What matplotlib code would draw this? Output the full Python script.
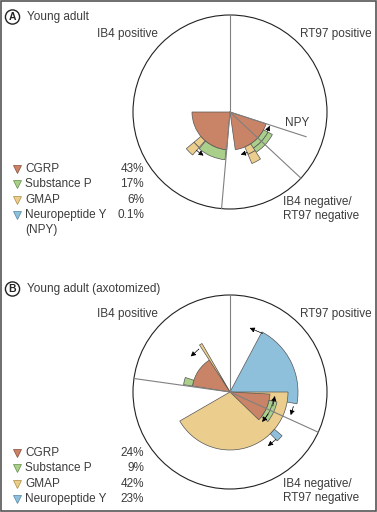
import numpy as np
import matplotlib.pyplot as plt
from matplotlib.patches import Wedge, Circle, Rectangle

plt.rcParams['font.family'] = ['Liberation Sans', 'DejaVu Sans']

W, H = 377, 512

peptides = ['CGRP', 'Substance P', 'GMAP', 'Neuropeptide Y']
colors = ['#c98467', '#a9cf8b', '#ebce8d', '#8ec0dc']
edge_colors = ['#8a4a35', '#5f8f45', '#b08a3e', '#4d85a8']

pct_a = ['43%', '17%', '6%', '0.1%']
pct_b = ['24%', '9%', '42%', '23%']

# circle radius and sector boundary angles (deg)
radius = 97
bounds_a = [90, 265, 317]
bounds_b = [90, 172, 335.5]
npy_line_a = (-18, 80)   # angle, length

# overlay wedges: (peptide index, r_in, r_out, theta1, theta2)
wedges_a = [
    (0, 0, 38, 180, 265),
    (1, 38, 48, 230, 264),
    (2, 38, 47, 220, 229),
    (2, 47, 57, 220, 229),
    (0, 0, 38, -82, -18),
    (1, 38, 43, -60, -28),
    (1, 43, 48, -60, -28),
    (2, 38, 46, -67, -57),
    (2, 46, 56, -67, -57),
]
wedges_b = [
    (3, 0, 68, -10, 62),
    (2, 0, 58, -150, 0),
    (0, 0, 38, 121, 171),
    (2, 0, 56, 120, 123),
    (1, 38, 47, 162, 171),
    (0, 0, 40, -44, -3),
    (1, 40, 44, -38, -12),
    (1, 44, 48, -38, -12),
    (3, 58, 68, -46, -40),
]
# arrows: (radius, angle_from, angle_to)
arrows_a = [(51, 229, 239), (42, -27, -19), (44, -67, -76)]
arrows_b = [(67, 61, 73), (65, -13, -21), (45, -18, -5), (44, -30, -43),
            (66, -46, -55), (53, 126, 138)]

TXT = '#3c3c3c'
FS = 8.5


def Y(y):
    return H - y


def polar(c, r, ang):
    a = np.radians(ang)
    return c[0] + r * np.cos(a), c[1] + r * np.sin(a)


def draw_panel(ax, c, bounds, wedges, arrows):
    ax.add_patch(Circle(c, radius, fc='white', ec='#222222', lw=0.8, zorder=1))
    for k, r0, r1, t1, t2 in wedges:
        ax.add_patch(Wedge(c, r1, t1, t2, width=r1 - r0, fc=colors[k],
                           ec='#555555', lw=0.5, zorder=2))
    for ang in bounds:
        x, y = polar(c, radius, ang)
        ax.plot([c[0], x], [c[1], y], color='#808080', lw=0.8, zorder=3)
    for r, a0, a1 in arrows:
        tail = polar(c, r, a0)
        head = polar(c, r, a1)
        ax.annotate('', xy=head, xytext=tail,
                    arrowprops=dict(arrowstyle='-|>', color='black', lw=0.6,
                                    linestyle=(0, (1.5, 1)), mutation_scale=7,
                                    shrinkA=0, shrinkB=0), zorder=4)


def draw_legend(ax, y0, pcts, extra=None):
    for i, (name, p) in enumerate(zip(peptides, pcts)):
        y = Y(y0 + i * 15.3)
        ax.plot(17, y, marker='v', ms=5.5, color=colors[i], mec=edge_colors[i],
                mew=0.5, zorder=5)
        ax.text(25, y, name, ha='left', va='center', fontsize=FS, color=TXT)
        ax.text(144, y, p, ha='right', va='center', fontsize=FS, color=TXT)
    if extra:
        ax.text(25, Y(y0 + 4 * 15.3), extra, ha='left', va='center',
                fontsize=FS, color=TXT)


def draw_title(ax, y, letter, title):
    ax.text(12.5, Y(y), letter, ha='center', va='center', fontsize=7.5,
            fontweight='bold', color='#222222',
            bbox=dict(boxstyle='circle,pad=0.2', fc='white', ec='#222222', lw=1.0))
    ax.text(27, Y(y), title, ha='left', va='center', fontsize=FS, color=TXT)


fig = plt.figure(figsize=(W / 100, H / 100), dpi=100)
ax = fig.add_axes([0, 0, 1, 1])
ax.set_xlim(0, W)
ax.set_ylim(0, H)
ax.set_aspect('equal')
ax.axis('off')

ax.add_patch(Rectangle((1, 1), W - 2, H - 2, fill=False, ec='#555555', lw=1.2))

# Panel A
ca = (230, Y(112))
draw_panel(ax, ca, bounds_a, wedges_a, arrows_a)
nx, ny = polar(ca, npy_line_a[1], npy_line_a[0])
ax.plot([ca[0], nx], [ca[1], ny], color='#808080', lw=0.8, zorder=3)
ax.text(285, Y(123), 'NPY', ha='left', va='center', fontsize=FS, color=TXT)
draw_title(ax, 17, 'A', 'Young adult')
ax.text(158, Y(34), 'IB4 positive', ha='right', va='center', fontsize=FS, color=TXT)
ax.text(300, Y(34), 'RT97 positive', ha='left', va='center', fontsize=FS, color=TXT)
ax.text(283, Y(209), 'IB4 negative/\nRT97 negative', ha='left', va='center',
        fontsize=FS, color=TXT, linespacing=1.15)
draw_legend(ax, 169, pct_a, extra='(NPY)')

# Panel B
cb = (230, Y(392))
draw_panel(ax, cb, bounds_b, wedges_b, arrows_b)
draw_title(ax, 289, 'B', 'Young adult (axotomized)')
ax.text(158, Y(314), 'IB4 positive', ha='right', va='center', fontsize=FS, color=TXT)
ax.text(300, Y(314), 'RT97 positive', ha='left', va='center', fontsize=FS, color=TXT)
ax.text(283, Y(491), 'IB4 negative/\nRT97 negative', ha='left', va='center',
        fontsize=FS, color=TXT, linespacing=1.15)
draw_legend(ax, 453, pct_b)

fig.savefig('out.png', dpi=100)
